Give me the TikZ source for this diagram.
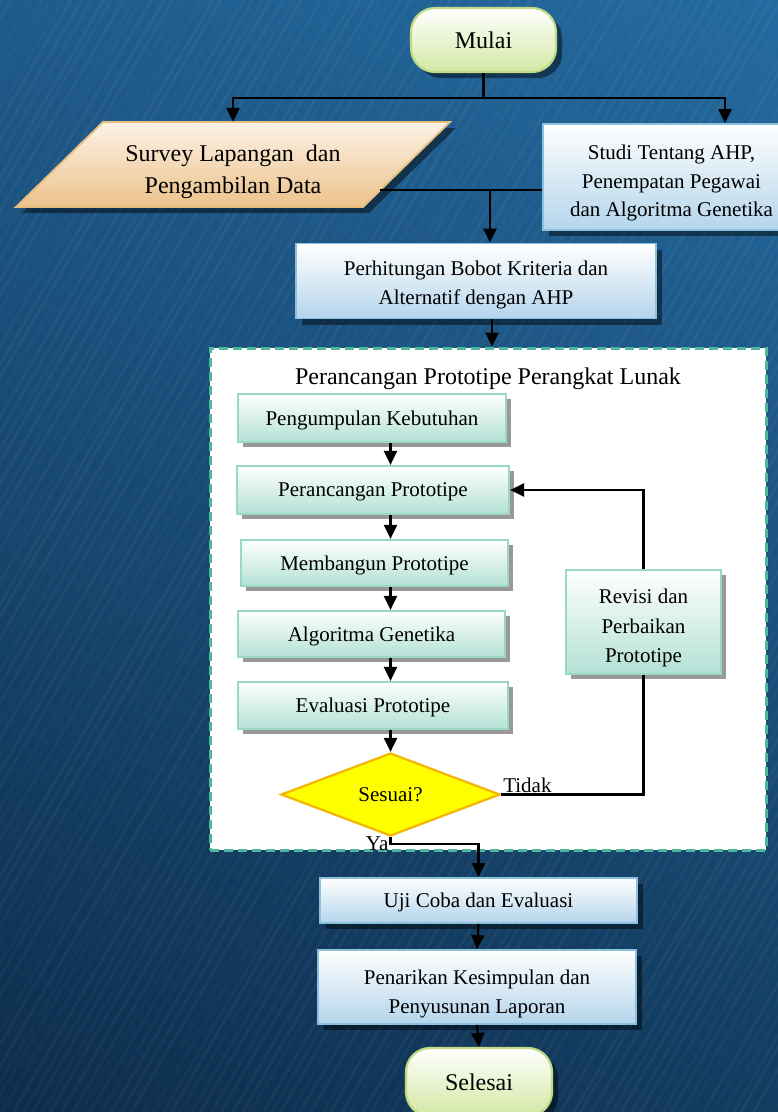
\documentclass[tikz,border=0pt]{standalone}
\usepackage{fontspec}
\setmainfont{Liberation Serif}
\usetikzlibrary{arrows.meta,shapes.geometric,shadows,calc}

\definecolor{bgTop}{HTML}{2670A8}
\definecolor{bgBot}{HTML}{0B2643}
\definecolor{blueFill}{HTML}{B4D5EC}
\definecolor{blueEdge}{HTML}{8CC0DE}
\definecolor{aquaFill}{HTML}{B3E1D5}
\definecolor{aquaEdge}{HTML}{9AD8C6}
\definecolor{limeFill}{HTML}{D3E8A4}
\definecolor{limeEdge}{HTML}{C0DA84}
\definecolor{tanFill}{HTML}{ECC28A}
\definecolor{tanLight}{HTML}{FDF2E6}
\definecolor{tanEdge}{HTML}{E6BE80}
\definecolor{frameEdge}{HTML}{4FB89C}
\definecolor{decFill}{HTML}{FFFF00}
\definecolor{decEdge}{HTML}{F5B400}

\newcommand\txtN{\fontsize{21}{28.5}\selectfont}
\newcommand\txtL{\fontsize{24}{32}\selectfont}
% taller first line, so that a block of lines sits a little lower in its box
\newcommand\firstline[1]{\rule{0pt}{#1}}

\tikzset{
  conn/.style={draw=black, line width=2.3pt},
  arr/.style={conn, -{Triangle[width=13pt,length=14pt]}},
  darkshadow/.style={drop shadow={shadow xshift=6pt, shadow yshift=-6pt, opacity=0.45, fill=black}},
  greyshadow/.style={drop shadow={shadow xshift=5pt, shadow yshift=-5pt, opacity=0.4, fill=black}},
  boxtext/.style={align=center, inner sep=0pt, text depth=-3pt},
  bluebox/.style={rectangle, draw=blueEdge, line width=1.8pt, top color=white,
    bottom color=blueFill, darkshadow, font=\txtN, boxtext},
  aquabox/.style={rectangle, draw=aquaEdge, line width=2.2pt, top color=white,
    bottom color=aquaFill, greyshadow, font=\txtN, boxtext},
  terminal/.style={rectangle, rounded corners=24pt, draw=limeEdge, line width=2.2pt,
    top color=white, bottom color=limeFill, darkshadow, font=\txtL, boxtext},
  ioshape/.style={draw=tanEdge, line width=1.8pt, top color=tanLight,
    bottom color=tanFill, darkshadow},
  decision/.style={diamond, draw=decEdge, line width=2.2pt, fill=decFill,
    font=\txtN, boxtext},
  groupframe/.style={rectangle, draw=frameEdge, fill=white, line width=3pt,
    dash pattern=on 9pt off 5pt, inner sep=0pt},
  lbl/.style={font=\txtN, inner sep=1pt}
}

\begin{document}
\begin{tikzpicture}[x=1pt,y=-1pt]
\useasboundingbox (0,0) rectangle (778,1112);
\clip (0,0) rectangle (778,1112);

% background: light upper right, dark lower left, faint diagonal streaks
\shade[top color=bgTop, bottom color=bgBot, shading angle=-25]
  (-300,-300) rectangle (1078,1412);
\pgfmathsetseed{7}
\foreach \k in {0,...,150}{
  \pgfmathsetmacro\sx{-700+\k*10+4*rnd}
  \pgfmathsetmacro\op{0.015+0.03*rnd}
  \draw[white, opacity=\op, line width=3pt] (\sx,1112) -- ++(650,-1112);
}

% top part
\node[terminal, minimum width=145pt, minimum height=64pt] (mulai) at (483.5,40) {Mulai};

% data input parallelogram
\coordinate (svTL) at (103,122);
\coordinate (svTR) at (450,122);
\coordinate (svBR) at (363,207);
\coordinate (svBL) at (16,207);
\path[ioshape] (svTL) -- (svTR) -- (svBR) -- (svBL) -- cycle;
\node[font=\txtL, boxtext, minimum width=260pt, minimum height=85pt]
  (survey) at (233,164.5) {\firstline{25pt}Survey Lapangan \ dan\\Pengambilan Data};

\node[bluebox, minimum width=257pt, minimum height=106pt] (studi) at (671.5,177)
  {\firstline{22pt}Studi Tentang AHP,\\Penempatan Pegawai\\dan Algoritma Genetika};
\node[bluebox, minimum width=360pt, minimum height=75pt] (perh) at (476,281)
  {\firstline{18pt}Perhitungan Bobot Kriteria dan\\Alternatif dengan AHP};

% prototype group
\node[groupframe, minimum width=556pt, minimum height=502pt] (frame) at (488,599) {};
\node[font=\txtL, inner sep=0pt, text depth=-3pt] (ftitle) at (488,376) {Perancangan Prototipe Perangkat Lunak};
\node[aquabox, minimum width=268pt, minimum height=48pt] (kebutuhan) at (372,418) {Pengumpulan Kebutuhan};
\node[aquabox, minimum width=272pt, minimum height=48pt] (rancang) at (373,490) {Perancangan Prototipe};
\node[aquabox, minimum width=267pt, minimum height=46pt] (bangun) at (374.5,563) {Membangun Prototipe};
\node[aquabox, minimum width=267pt, minimum height=46pt] (algo) at (371.5,634) {Algoritma Genetika};
\node[aquabox, minimum width=270pt, minimum height=47pt] (evaluasi) at (373,705.5) {Evaluasi Prototipe};
\node[aquabox, minimum width=155pt, minimum height=104pt, font=\fontsize{21}{29.5}\selectfont]
  (revisi) at (643.5,622) {\firstline{22pt}Revisi dan\\Perbaikan\\Prototipe};
\node[decision, minimum width=219pt, minimum height=83pt] (sesuai) at (390.5,794.5) {Sesuai?};

% bottom part
\node[bluebox, minimum width=317pt, minimum height=45pt] (uji) at (478.5,900.5) {Uji Coba dan Evaluasi};
\node[bluebox, minimum width=318pt, minimum height=74pt, font=\fontsize{21}{29}\selectfont]
  (tarik) at (477,987) {\firstline{24pt}Penarikan Kesimpulan dan\\Penyusunan Laporan};
\node[terminal, minimum width=146pt, minimum height=68pt] (selesai) at (479,1082) {Selesai};

% connectors
\coordinate (studiIn) at ([xshift=53.5pt]studi.north);
\draw[arr] (mulai.south) -- ++(0,25) -| (survey.north);
\draw[arr] (mulai.south) -- ++(0,25) -| (studiIn);

\coordinate (svR) at ($(svBR)!0.2!(svTR)$);
\coordinate (perhIn) at ([xshift=14pt]perh.north);
\draw[conn] (svR) -- (studi.west |- svR);
\draw[arr] (perhIn |- svR) -- (perhIn);

\coordinate (perhOut) at ([xshift=16pt]perh.south);
\draw[arr] (perhOut) -- (frame.north -| perhOut);

\draw[arr] (kebutuhan.south -| sesuai.north) -- (rancang.north -| sesuai.north);
\draw[arr] (rancang.south -| sesuai.north) -- (bangun.north -| sesuai.north);
\draw[arr] (bangun.south -| sesuai.north) -- (algo.north -| sesuai.north);
\draw[arr] (algo.south -| sesuai.north) -- (evaluasi.north -| sesuai.north);
\draw[arr] (evaluasi.south -| sesuai.north) -- (sesuai.north);

\draw[conn] (sesuai.east) node[lbl, anchor=south west] {Tidak} -| (revisi.south);
\draw[arr] (revisi.north) |- (rancang.east);

\draw[arr] (sesuai.south) -- ++(0,7) node[lbl, anchor=east] {Ya} -| (uji.north);
\draw[arr] (uji.south) -- (tarik.north);
\draw[arr] (tarik.south) -- (selesai.north);
\end{tikzpicture}
\end{document}
